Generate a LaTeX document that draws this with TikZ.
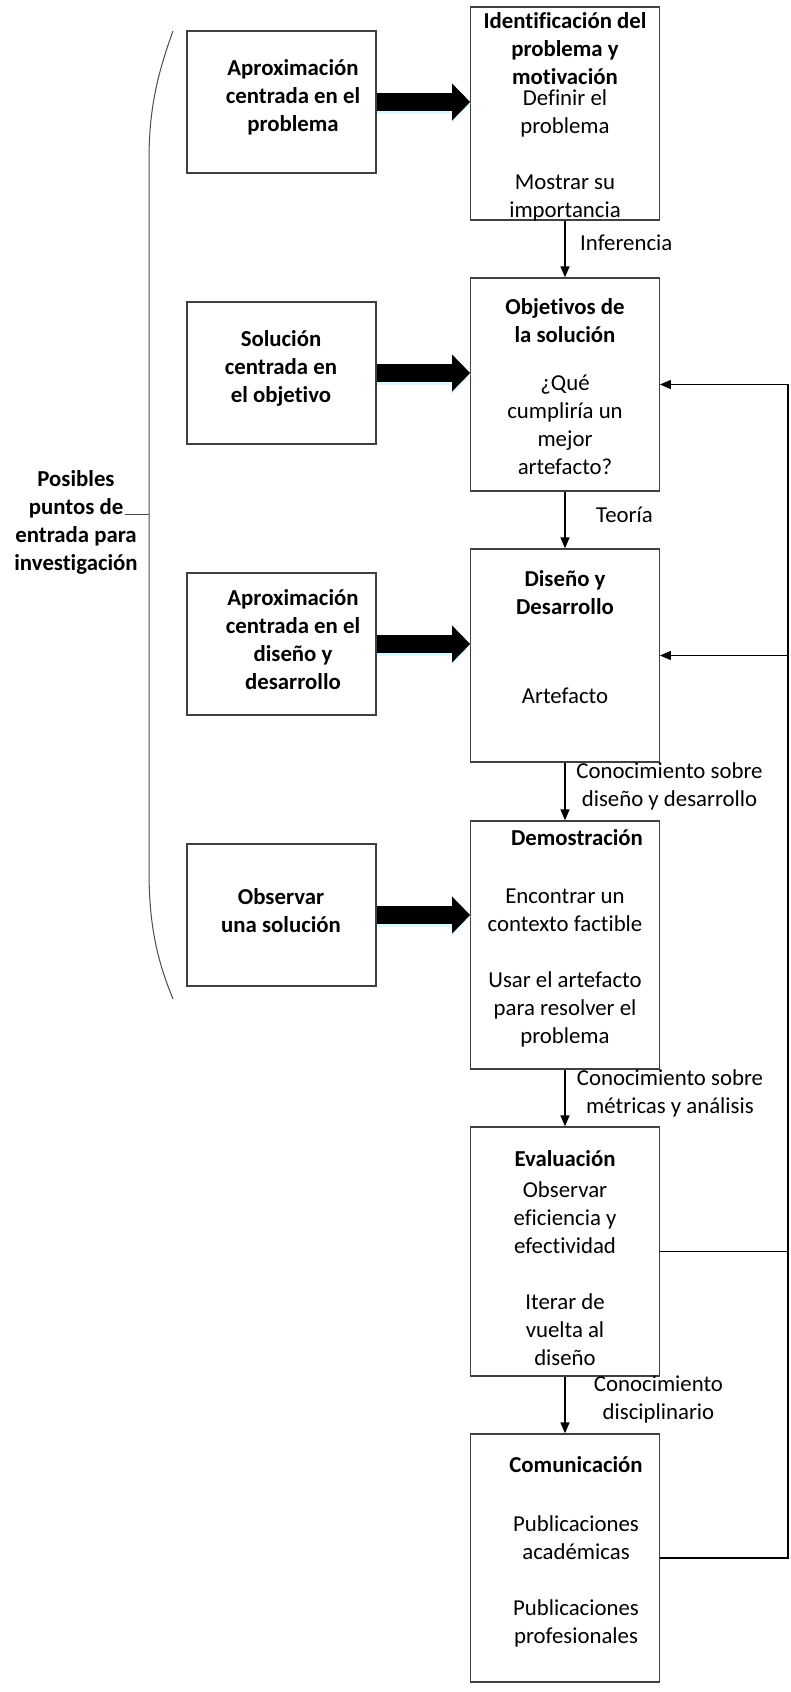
\documentclass[tikz,border=0pt]{standalone}
\usepackage{fontspec}
\setmainfont[Ligatures=NoCommon]{Carlito}
\usetikzlibrary{arrows.meta}
\begin{document}
\begin{tikzpicture}[x=1pt,y=-1pt,
  every node/.style={font=\fontsize{22.8}{28}\selectfont, inner sep=0pt},
  box/.style={draw=black!75, line width=1.3pt, fill=white},
  lbox/.style={box, minimum width=189pt, minimum height=142pt},
  mbox/.style={box, minimum width=188.5pt, minimum height=213pt},
  txt/.style={align=center},
  btxt/.style={align=center, font=\fontsize{22.8}{28}\selectfont\bfseries},
  arr/.style={line width=1.3pt, -{Triangle[length=11pt,width=9pt]}},
  big/.style={line width=18pt, -{Triangle[length=18pt,width=37pt,line width=0pt]}},
  glow/.style={line width=20pt, draw=blue!18!cyan!15, -{Triangle[length=19pt,width=40pt,line width=0pt]}},
]
\useasboundingbox (0,0) rectangle (790,1692);

% bracket
\coordinate (bt) at (173,31);
\coordinate (bb) at (173,999);
\coordinate (bm) at (149,514);
\coordinate (tick) at (125,514);
\draw[black!70, line width=1pt] (bt) .. controls (157,75) and (149,110) .. (149,160) -- (149,870) .. controls (149,925) and (157,960) .. (bb);
\draw[black!70, line width=1pt] (tick) -- (bm);
\node[btxt] (pos) at (76,522.5) {Posibles\\puntos de\\entrada para\\investigación};

% left boxes
\node[lbox] (L1) at (281.5,102) {};
\node[lbox] (L2) at (281.5,373) {};
\node[lbox] (L3) at (281.5,644) {};
\node[lbox] (L4) at (281.5,915) {};
\node[btxt] (l1t) at (293,97) {Aproximación\\centrada en el\\problema};
\node[btxt] (l2t) at (281,368) {Solución\\centrada en\\el objetivo};
\node[btxt] (l3t) at (293,640) {Aproximación\\centrada en el\\diseño y\\desarrollo};
\node[btxt] (l4t) at (281,911) {Observar\\una solución};

% main boxes
\node[mbox] (M1) at (565,113.5) {};
\node[mbox] (M2) at (565,384.5) {};
\node[mbox] (M3) at (565,655.5) {};
\node[mbox, minimum height=248pt] (M4) at (565,945) {};
\node[mbox, minimum height=249pt] (M5) at (565,1251.5) {};
\node[mbox, minimum height=248pt] (M6) at (565,1558) {};

\node[btxt] (m1t) at (565,49) {Identificación del\\problema y\\motivación};
\node[txt] (m1b) at (565,155) {Definir el\\problema\\[28pt]Mostrar su\\importancia};
\node[btxt] (m2t) at (565,321) {Objetivos de\\la solución};
\node[txt] (m2b) at (565,425) {¿Qué\\cumpliría un\\mejor\\artefacto?};
\node[btxt] (m3t) at (565,592.5) {Diseño y\\Desarrollo};
\node[txt] (m3b) at (565,696) {Artefacto};
\node[btxt] (m4t) at (577,838) {Demostración};
\node[txt] (m4b) at (565,968) {Encontrar un\\contexto factible\\[28pt]Usar el artefacto\\para resolver el\\problema};
\node[btxt] (m5t) at (565,1159) {Evaluación};
\node[txt] (m5b) at (565,1274) {Observar\\eficiencia y\\efectividad\\[28pt]Iterar de\\vuelta al\\diseño};
\node[btxt] (m6t) at (576,1465) {Comunicación};
\node[txt] (m6b) at (576,1581) {Publicaciones\\académicas\\[28pt]Publicaciones\\profesionales};

% big arrows
\foreach \i in {1,2,3,4}{
  \draw[glow, transform canvas={xshift=0.5pt,yshift=-1.5pt}] (L\i.east) -- (M\i.west |- L\i.east);
  \draw[big] (L\i.east) -- (M\i.west |- L\i.east);
}

% vertical arrows
\draw[arr] (M1.south) -- (M2.north);
\draw[arr] (M2.south) -- (M3.north);
\draw[arr] (M3.south) -- (M4.north);
\draw[arr] (M4.south) -- (M5.north);
\draw[arr] (M5.south) -- (M6.north);

\node[txt, anchor=west] (e1) at (580,243) {Inferencia};
\node[txt, anchor=west] (e2) at (596,515) {Teoría};
\node[txt] (e3) at (669.5,786) {Conocimiento sobre\\diseño y desarrollo};
\node[txt] (e4) at (670,1093) {Conocimiento sobre\\métricas y análisis};
\node[txt] (e5) at (658.5,1399) {Conocimiento\\disciplinario};

% feedback
\coordinate (R) at (788,0);
\draw[arr] (M6.east) -- (M6.east -| R) |- (M2.east);
\draw[arr] (M5.east) -- (M5.east -| R) |- (M3.east);
\end{tikzpicture}
\end{document}
